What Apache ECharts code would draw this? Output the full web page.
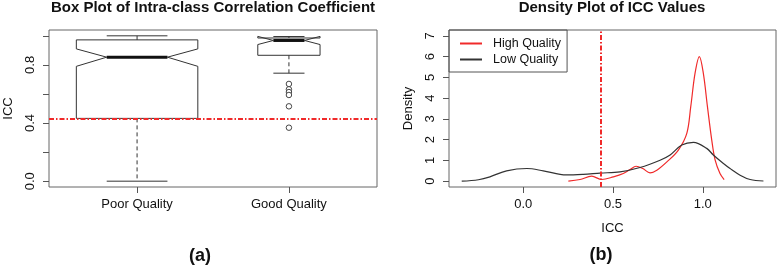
<!DOCTYPE html>
<html>
<head>
<meta charset="utf-8">
<script src="https://cdn.jsdelivr.net/npm/echarts@6/dist/echarts.min.js"></script>
<style>
html,body{margin:0;padding:0;background:#fff;}
#chart{width:778px;height:267px;}
</style>
</head>
<body>
<div id="chart"></div>
<script>
// (a) notched box plot, one value per group
var groups = ['Poor Quality', 'Good Quality'];
var whiskerLow = [0.0, 0.743];
var hingeLow = [0.432, 0.866];
var notchLow = [0.79, 0.94];
var medians = [0.853, 0.968];
var notchHigh = [0.91, 0.996];
var hingeHigh = [0.972, 0.985];
var whiskerHigh = [1.0, 0.995];
var goodOutliers = [0.669, 0.632, 0.613, 0.593, 0.515, 0.368];
var threshold = 0.432;
var boxTicks = [0, 0.2, 0.4, 0.6, 0.8, 1.0];
var boxLabels = [0, 0.4, 0.8];

// (b) density curves
var lowX = [-0.343, -0.25, -0.186, -0.093, 0.02, 0.111, 0.24, 0.334, 0.428, 0.539, 0.65, 0.762, 0.818, 0.883, 0.948, 1.022, 1.059, 1.115, 1.152, 1.208, 1.264, 1.338];
var lowY = [0.0, 0.07, 0.21, 0.5, 0.61, 0.5, 0.3, 0.33, 0.39, 0.45, 0.66, 1.01, 1.26, 1.74, 1.87, 1.58, 1.26, 0.85, 0.61, 0.29, 0.08, 0.01];
var highX = [0.251, 0.316, 0.381, 0.437, 0.502, 0.557, 0.595, 0.628, 0.666, 0.706, 0.744, 0.8, 0.864, 0.911, 0.933, 0.957, 0.981, 1.003, 1.026, 1.05, 1.069, 1.096, 1.119];
var highY = [0.0, 0.08, 0.24, 0.08, 0.21, 0.37, 0.56, 0.72, 0.61, 0.4, 0.53, 0.93, 1.5, 2.3, 3.59, 5.2, 6.0, 5.2, 3.59, 1.98, 1.01, 0.37, 0.08];
var densTicksX = [0, 0.5, 1.0];
var densTicksY = [0, 1, 2, 3, 4, 5, 6, 7];

var boxHalf = [0.4, 0.205];   // half box width, axis units
var RED = '#f02a2a';
var INK = '#333';
var FONT = 'Liberation Sans, Arial, sans-serif';
var dotDash = [5, 2, 1.5, 2];

var boxData = groups.map(function (g, i) {
    return [i + 1, whiskerLow[i], hingeLow[i], notchLow[i], medians[i], notchHigh[i], hingeHigh[i], whiskerHigh[i]];
});

function zip(xs, ys) {
    return xs.map(function (x, i) { return [x, ys[i]]; });
}

function renderBox(params, api) {
    var pos = api.value(0);
    var h = boxHalf[params.dataIndex];
    var wl = api.value(1), hl = api.value(2), nl = api.value(3), md = api.value(4),
        nh = api.value(5), hh = api.value(6), wh = api.value(7);
    function pt(dx, v) { return api.coord([pos + dx, v]); }
    var st = { stroke: INK, lineWidth: 1, fill: null };
    var dash = { stroke: INK, lineWidth: 1, lineDash: [4, 3] };
    function seg(a, b, style) {
        return { type: 'line', shape: { x1: a[0], y1: a[1], x2: b[0], y2: b[1] }, style: style };
    }
    return {
        type: 'group',
        children: [
            seg(pt(0, hl), pt(0, wl), dash),
            seg(pt(0, hh), pt(0, wh), dash),
            seg(pt(-h / 2, wl), pt(h / 2, wl), st),
            seg(pt(-h / 2, wh), pt(h / 2, wh), st),
            {
                type: 'polygon',
                shape: { points: [pt(-h, hl), pt(-h, nl), pt(-h / 2, md), pt(-h, nh), pt(-h, hh),
                                  pt(h, hh), pt(h, nh), pt(h / 2, md), pt(h, nl), pt(h, hl)] },
                style: st
            },
            seg(pt(-h / 2, md), pt(h / 2, md), { stroke: '#111', lineWidth: 3 })
        ]
    };
}

var myChart = echarts.init(document.getElementById('chart'));
var axisText = { color: '#111', fontSize: 13, fontFamily: FONT };
var tickStyle = { show: true, inside: false, length: 6, lineStyle: { color: '#555' } };
var noLine = { show: false, onZero: false };

myChart.setOption({
    animation: false,
    grid: [
        { left: 49, top: 30, width: 328, height: 157, show: true, borderColor: '#666', borderWidth: 1, backgroundColor: 'transparent' },
        { left: 449, top: 30, width: 327, height: 157, show: true, borderColor: '#666', borderWidth: 1, backgroundColor: 'transparent' }
    ],
    xAxis: [
        {
            gridIndex: 0, type: 'value', min: 0.42, max: 2.58,
            splitLine: { show: false }, axisLine: noLine,
            axisTick: Object.assign({ customValues: [1, 2] }, tickStyle),
            axisLabel: Object.assign({ customValues: [1, 2], margin: 11, formatter: function (v) { return groups[Math.round(v) - 1]; } }, axisText)
        },
        {
            gridIndex: 1, type: 'value', min: -0.414, max: 1.408,
            splitLine: { show: false }, axisLine: noLine,
            axisTick: Object.assign({ customValues: densTicksX }, tickStyle),
            axisLabel: Object.assign({ customValues: densTicksX, margin: 11, formatter: function (v) { return v.toFixed(1); } }, axisText),
            name: 'ICC', nameLocation: 'middle', nameGap: 35, nameTextStyle: axisText
        }
    ],
    yAxis: [
        {
            gridIndex: 0, type: 'value', min: -0.04, max: 1.04,
            splitLine: { show: false }, axisLine: noLine,
            axisTick: Object.assign({ customValues: boxTicks }, tickStyle),
            axisLabel: Object.assign({ customValues: boxLabels, rotate: 90, margin: 12, formatter: function (v) { return v.toFixed(1); } }, axisText),
            name: 'ICC', nameLocation: 'middle', nameGap: 34, nameRotate: 90, nameTextStyle: axisText
        },
        {
            gridIndex: 1, type: 'value', min: -0.28, max: 7.28,
            splitLine: { show: false }, axisLine: noLine,
            axisTick: Object.assign({ customValues: densTicksY }, tickStyle),
            axisLabel: Object.assign({ customValues: densTicksY, rotate: 90, margin: 12 }, axisText),
            name: 'Density', nameLocation: 'middle', nameGap: 34, nameRotate: 90, nameTextStyle: axisText
        }
    ],
    legend: {
        data: ['High Quality', 'Low Quality'],
        orient: 'vertical', left: 449, top: 30,
        borderColor: '#555', borderWidth: 1, borderRadius: 0,
        padding: [7, 6, 6, 11], itemGap: 3, itemWidth: 22, itemHeight: 2, icon: 'rect',
        textStyle: { color: '#111', fontSize: 12.5, fontFamily: FONT, padding: [0, 0, 0, 6] }
    },
    graphic: [
        { type: 'text', style: { text: 'Box Plot of Intra-class Correlation Coefficient', x: 213, y: 0, textAlign: 'center', font: 'bold 15px ' + FONT, fill: '#111' } },
        { type: 'text', style: { text: 'Density Plot of ICC Values', x: 612, y: 0, textAlign: 'center', font: 'bold 15px ' + FONT, fill: '#111' } },
        { type: 'text', style: { text: '(a)', x: 200, y: 247, textAlign: 'center', font: 'bold 18px ' + FONT, fill: '#111' } },
        { type: 'text', style: { text: '(b)', x: 601, y: 246, textAlign: 'center', font: 'bold 18px ' + FONT, fill: '#111' } }
    ],
    series: [
        {
            type: 'custom', name: 'box', xAxisIndex: 0, yAxisIndex: 0,
            renderItem: renderBox, data: boxData,
            encode: { x: 0, y: [1, 7] }
        },
        {
            type: 'scatter', name: 'outliers', xAxisIndex: 0, yAxisIndex: 0,
            data: goodOutliers.map(function (v) { return [2, v]; }),
            symbol: 'circle', symbolSize: 5.5,
            itemStyle: { color: '#fff', borderColor: INK, borderWidth: 0.9, opacity: 1 },
            z: 5,
            markLine: {
                silent: true, symbol: 'none', label: { show: false },
                lineStyle: { color: RED, width: 2, type: dotDash },
                data: [{ yAxis: threshold }]
            }
        },
        {
            type: 'line', name: 'High Quality', xAxisIndex: 1, yAxisIndex: 1,
            data: zip(highX, highY), smooth: 0.35, symbol: 'none',
            lineStyle: { color: RED, width: 1.2 }, itemStyle: { color: RED },
            markLine: {
                silent: true, symbol: 'none', label: { show: false },
                lineStyle: { color: RED, width: 2, type: dotDash },
                data: [{ xAxis: threshold }]
            }
        },
        {
            type: 'line', name: 'Low Quality', xAxisIndex: 1, yAxisIndex: 1,
            data: zip(lowX, lowY), smooth: 0.35, symbol: 'none',
            lineStyle: { color: INK, width: 1.2 }, itemStyle: { color: INK }
        }
    ]
});
</script>
</body>
</html>
